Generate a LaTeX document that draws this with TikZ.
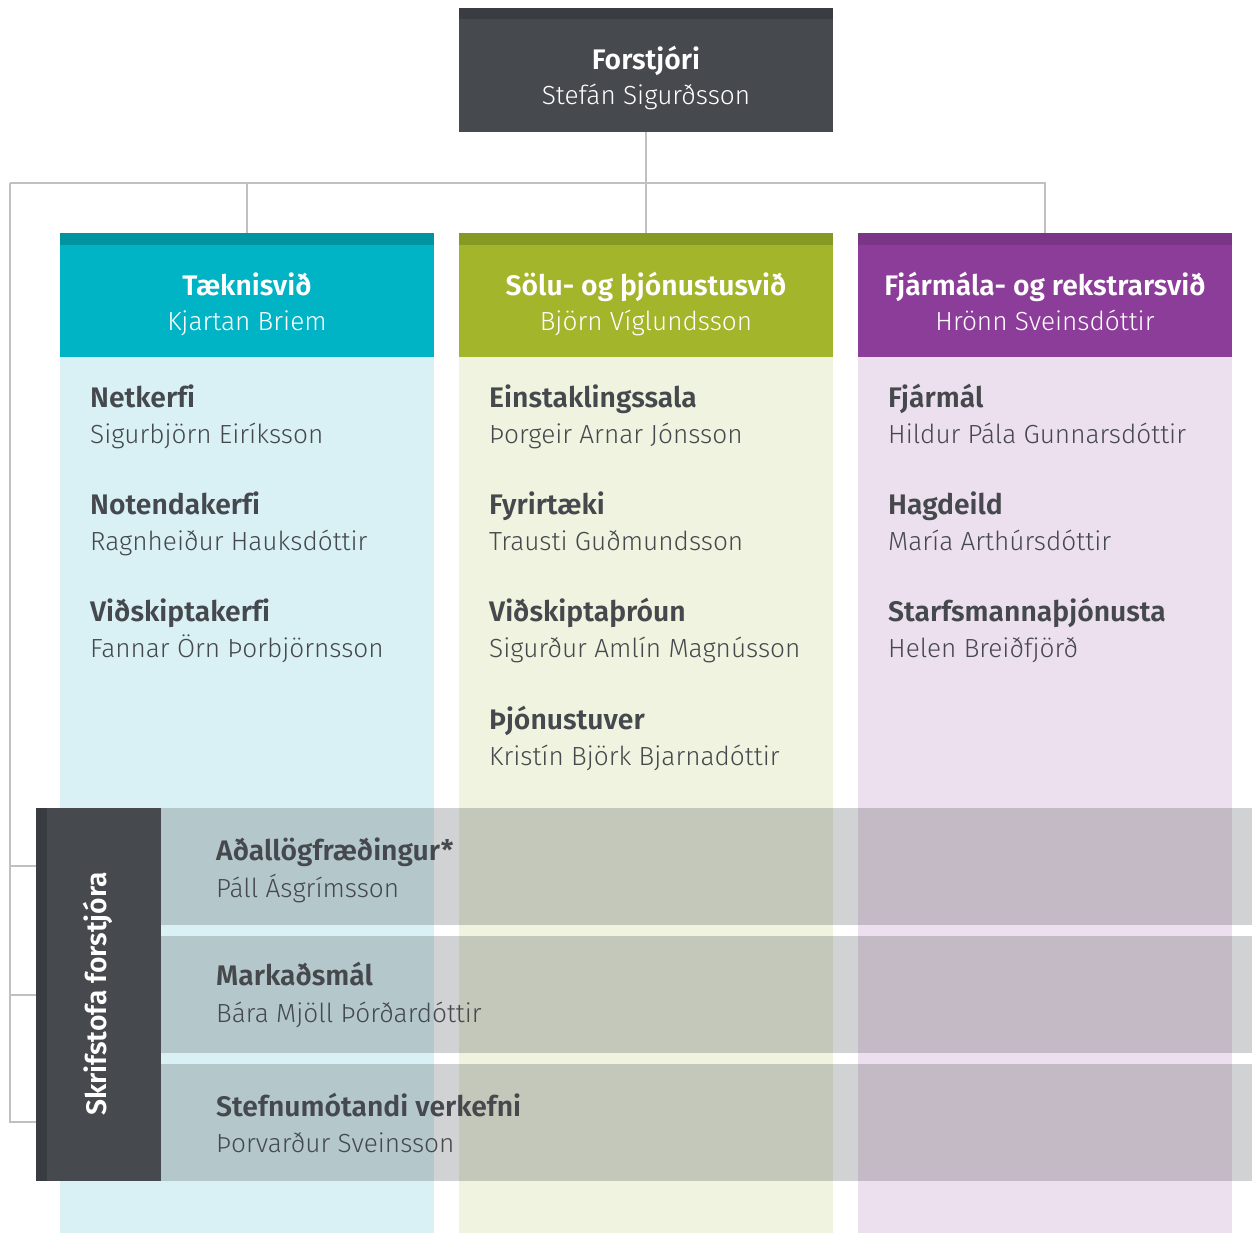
\documentclass[tikz,border=0pt]{standalone}
\usepackage{fontspec}
\setmainfont{Fira Sans}[UprightFont={* Light}, BoldFont={* SemiBold}, Ligatures=NoCommon]
\definecolor{dk}{HTML}{464A4E}
\definecolor{dkstrip}{HTML}{393C40}
\definecolor{teal1}{HTML}{00B4C5}
\definecolor{teal2}{HTML}{0093A0}
\definecolor{teal3}{HTML}{D9F1F5}
\definecolor{oli1}{HTML}{A3B52A}
\definecolor{oli2}{HTML}{869922}
\definecolor{oli3}{HTML}{EFF3DF}
\definecolor{pur1}{HTML}{8C3D99}
\definecolor{pur2}{HTML}{7A3587}
\definecolor{pur3}{HTML}{EDE0EE}
\definecolor{ln}{HTML}{C0C0C0}
\definecolor{tx}{HTML}{45494D}
\newcommand{\fs}{\fontsize{26.2}{30}\selectfont}
\newcommand{\fb}{\fontsize{28.3}{32}\selectfont\bfseries}
\tikzset{
  blk/.style={rectangle, inner sep=0, outer sep=0, anchor=north west},
  conn/.style={draw=ln, line width=2pt},
  ttl/.style={anchor=base west, inner sep=0, text=tx, font=\fb},
  nm/.style={anchor=base west, inner sep=0, text=tx, font=\fs},
  httl/.style={anchor=base, inner sep=0, text=white, font=\fb},
  hnm/.style={anchor=base, inner sep=0, text=white, font=\fs},
  bar/.style={blk, fill=dk, fill opacity=0.25, minimum width=1091pt, minimum height=117pt},
}
\begin{document}
\begin{tikzpicture}[x=1pt,y=-1pt]
\useasboundingbox (0,0) rectangle (1252,1234);
% column bodies
\node[blk, fill=teal3, minimum width=374pt, minimum height=1000pt] (b1) at (60,233) {};
\node[blk, fill=oli3, minimum width=374pt, minimum height=1000pt] (b2) at (459,233) {};
\node[blk, fill=pur3, minimum width=374pt, minimum height=1000pt] (b3) at (858,233) {};
% headers
\node[blk, fill=teal1, minimum width=374pt, minimum height=124pt] (h1) at (60,233) {};
\node[blk, fill=teal2, minimum width=374pt, minimum height=12pt] (h1s) at (60,233) {};
\node[blk, fill=oli1, minimum width=374pt, minimum height=124pt] (h2) at (459,233) {};
\node[blk, fill=oli2, minimum width=374pt, minimum height=12pt] (h2s) at (459,233) {};
\node[blk, fill=pur1, minimum width=374pt, minimum height=124pt] (h3) at (858,233) {};
\node[blk, fill=pur2, minimum width=374pt, minimum height=12pt] (h3s) at (858,233) {};
% top box
\node[blk, fill=dk, minimum width=374pt, minimum height=124pt] (ceo) at (459,8) {};
\node[blk, fill=dkstrip, minimum width=374pt, minimum height=11pt] (ceos) at (459,8) {};
% connectors
\coordinate (busL) at (10,183);
\coordinate (bus1) at (247,183);
\coordinate (bus3) at (1045,183);
\draw[conn] (ceo.south) -- (h2.north);
\draw[conn] (busL) -- (bus3) -- (h3.north);
\draw[conn] (bus1) -- (h1.north);
% office panel
\node[blk, fill=dk, minimum width=125pt, minimum height=373pt] (off) at (36,808) {};
\node[blk, fill=dkstrip, minimum width=11pt, minimum height=373pt] (offs) at (36,808) {};
\coordinate (o1) at (36,866);
\coordinate (o2) at (36,995);
\coordinate (o3) at (36,1122);
\draw[conn] (busL) -- (10,1122) -- (o3);
\draw[conn] (10,866) -- (o1);
\draw[conn] (10,995) -- (o2);
% overlay bars
\node[bar] (r1) at (161,808) {};
\node[bar] (r2) at (161,936) {};
\node[bar] (r3) at (161,1064) {};
% texts: top
\node[httl] (t0) at (646,69) {Forstjóri};
\node[hnm] (n0) at (646,104) {Stefán Sigurðsson};
% headers
\node[httl] (th1) at (247,295) {Tæknisvið};
\node[hnm] (nh1) at (247,330) {Kjartan Briem};
\node[httl] (th2) at (646,295) {Sölu- og þjónustusvið};
\node[hnm] (nh2) at (646,330) {Björn Víglundsson};
\node[httl] (th3) at (1045,295) {Fjármála- og rekstrarsvið};
\node[hnm] (nh3) at (1045,330) {Hrönn Sveinsdóttir};
% column 1
\node[ttl] (a1) at (90,407) {Netkerfi};
\node[nm] (a1n) at (90,443) {Sigurbjörn Eiríksson};
\node[ttl] (a2) at (90,514) {Notendakerfi};
\node[nm] (a2n) at (90,550) {Ragnheiður Hauksdóttir};
\node[ttl] (a3) at (90,621) {Viðskiptakerfi};
\node[nm] (a3n) at (90,657) {Fannar Örn Þorbjörnsson};
% column 2
\node[ttl] (c1) at (489,407) {Einstaklingssala};
\node[nm] (c1n) at (489,443) {Þorgeir Arnar Jónsson};
\node[ttl] (c2) at (489,514) {Fyrirtæki};
\node[nm] (c2n) at (489,550) {Trausti Guðmundsson};
\node[ttl] (c3) at (489,621) {Viðskiptaþróun};
\node[nm] (c3n) at (489,657) {Sigurður Amlín Magnússon};
\node[ttl] (c4) at (489,729) {Þjónustuver};
\node[nm] (c4n) at (489,765) {Kristín Björk Bjarnadóttir};
% column 3
\node[ttl] (d1) at (888,407) {Fjármál};
\node[nm] (d1n) at (888,443) {Hildur Pála Gunnarsdóttir};
\node[ttl] (d2) at (888,514) {Hagdeild};
\node[nm] (d2n) at (888,550) {María Arthúrsdóttir};
\node[ttl] (d3) at (888,621) {Starfsmannaþjónusta};
\node[nm] (d3n) at (888,657) {Helen Breiðfjörð};
% office
\node[rotate=90, inner sep=0, text=white, font=\fb] (offt) at (98,994) {Skrifstofa forstjóra};
\node[ttl] (e1) at (216,860) {Aðallögfræðingur*};
\node[nm] (e1n) at (216,897) {Páll Ásgrímsson};
\node[ttl] (e2) at (216,985) {Markaðsmál};
\node[nm] (e2n) at (216,1022) {Bára Mjöll Þórðardóttir};
\node[ttl] (e3) at (216,1116) {Stefnumótandi verkefni};
\node[nm] (e3n) at (216,1152) {Þorvarður Sveinsson};
\end{tikzpicture}
\end{document}
